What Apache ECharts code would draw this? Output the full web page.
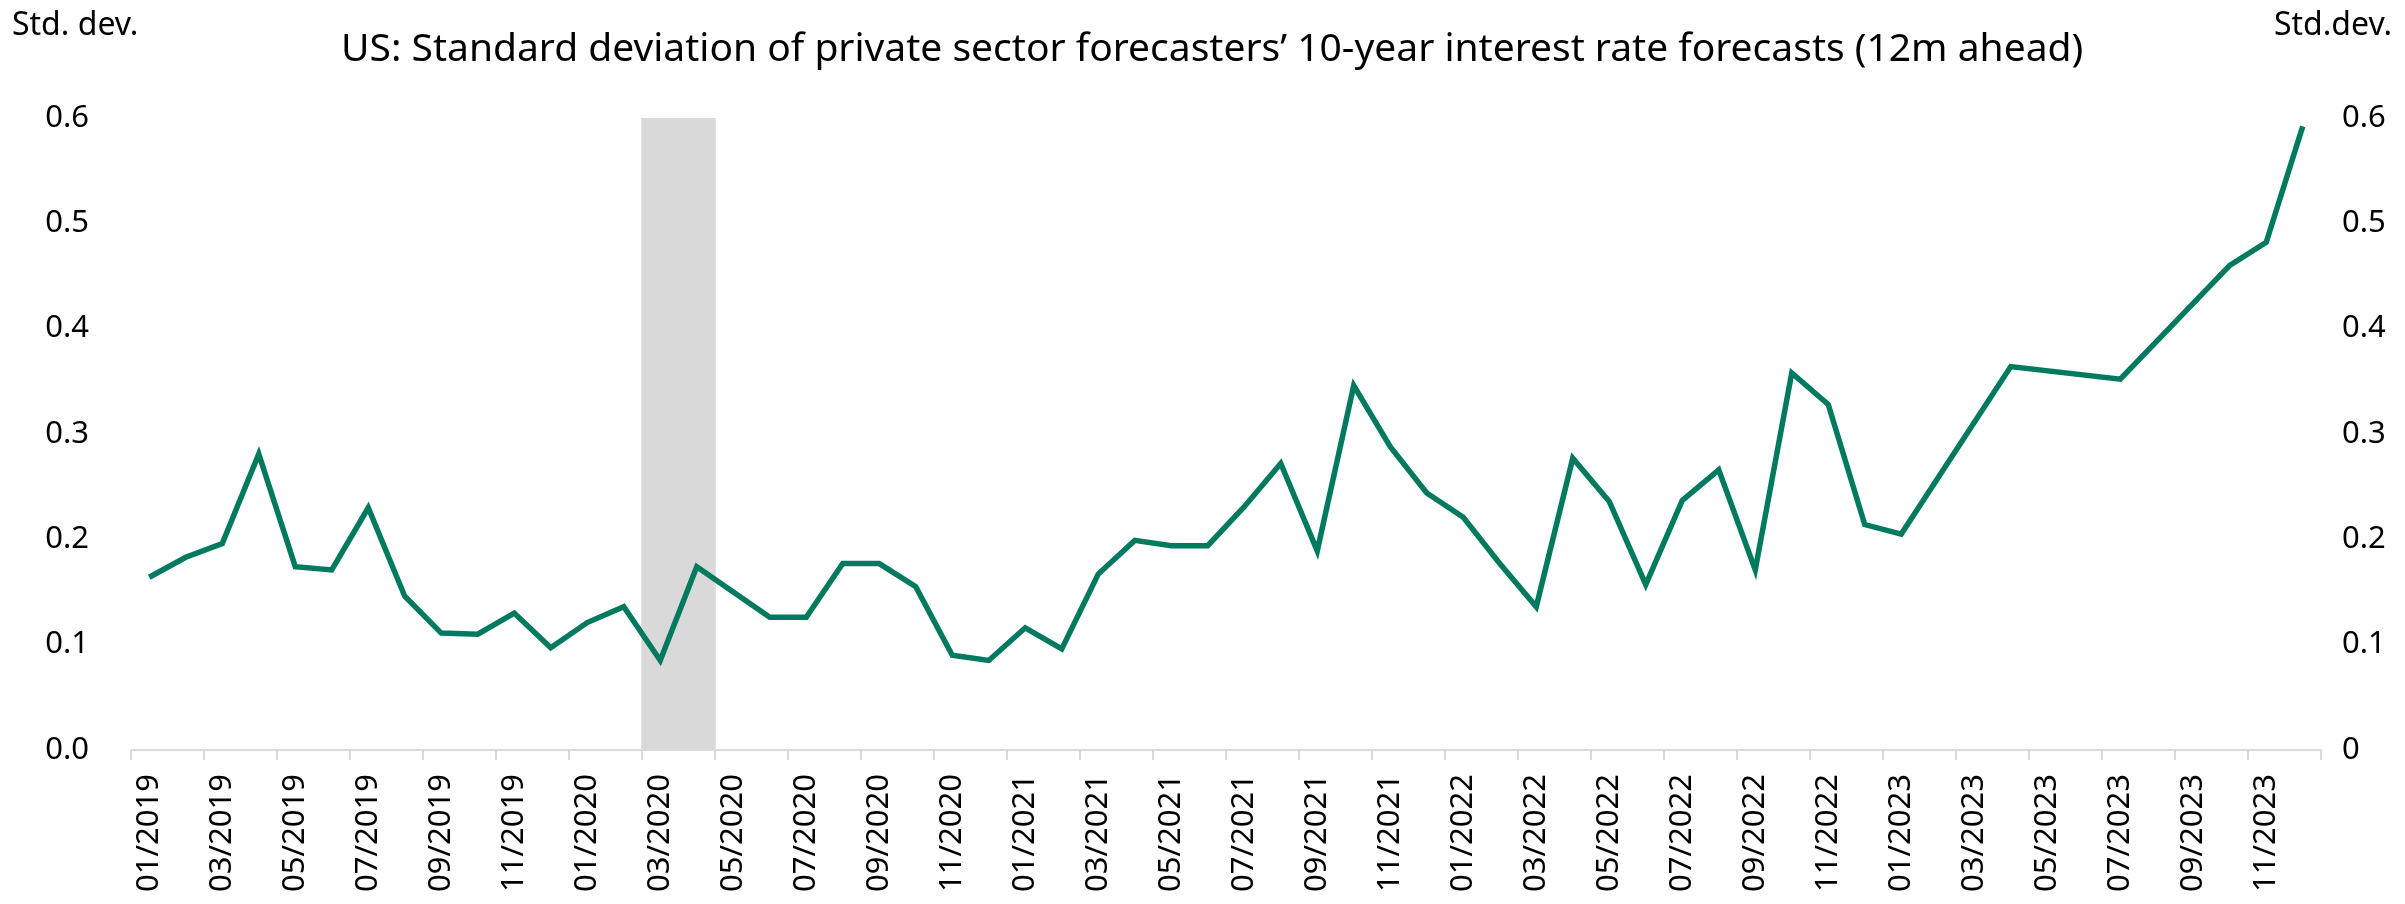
<!DOCTYPE html>
<html>
<head>
<meta charset="utf-8">
<script src="https://cdn.jsdelivr.net/npm/echarts@6/dist/echarts.min.js"></script>
<style>
html,body{margin:0;padding:0;background:#fff;}
#chart{width:2405px;height:904px;}
</style>
</head>
<body>
<div id="chart"></div>
<script>
const months = [
 '01/2019','02/2019','03/2019','04/2019','05/2019','06/2019','07/2019','08/2019','09/2019','10/2019','11/2019','12/2019',
 '01/2020','02/2020','03/2020','04/2020','05/2020','06/2020','07/2020','08/2020','09/2020','10/2020','11/2020','12/2020',
 '01/2021','02/2021','03/2021','04/2021','05/2021','06/2021','07/2021','08/2021','09/2021','10/2021','11/2021','12/2021',
 '01/2022','02/2022','03/2022','04/2022','05/2022','06/2022','07/2022','08/2022','09/2022','10/2022','11/2022','12/2022',
 '01/2023','02/2023','03/2023','04/2023','05/2023','06/2023','07/2023','08/2023','09/2023','10/2023','11/2023','12/2023'
];
const stdDev = [
 0.164,0.183,0.196,0.281,0.174,0.171,0.230,0.146,0.111,0.110,0.130,0.097,
 0.121,0.136,0.085,0.174,0.150,0.126,0.126,0.177,0.177,0.155,0.090,0.085,
 0.116,0.096,0.167,0.199,0.194,0.194,0.231,0.272,0.189,0.346,0.288,0.244,
 0.221,0.177,0.136,0.277,0.236,0.157,0.237,0.266,0.171,0.358,0.328,0.214,
 0.205,null,null,0.364,null,null,0.352,null,null,0.460,0.482,0.592
];
const shadedMonths = ['03/2020','04/2020'];
const yTicks = [0,0.1,0.2,0.3,0.4,0.5,0.6];
const titleText = 'US: Standard deviation of private sector forecasters\u2019 10-year interest rate forecasts (12m ahead)';
const leftUnit = 'Std. dev.';
const rightUnit = 'Std.dev.';

const FONT = 'Noto Sans';
const shadeData = months.map(m => shadedMonths.indexOf(m) >= 0 ? yTicks[yTicks.length-1] : null);

const chart = echarts.init(document.getElementById('chart'), null, {renderer:'canvas'});
chart.setOption({
  animation:false,
  backgroundColor:'#ffffff',
  textStyle:{fontFamily:FONT},
  title:{
    text:titleText, left:341, top:30, padding:0,
    textStyle:{fontFamily:FONT, fontSize:39, fontWeight:'normal', color:'#000'}
  },
  graphic:[
    {type:'text', left:12, top:10, style:{text:leftUnit, fontFamily:FONT, fontSize:32, fill:'#000'}},
    {type:'text', right:13, top:10, style:{text:rightUnit, fontFamily:FONT, fontSize:32, fill:'#000'}}
  ],
  grid:{left:131, right:84, top:118, bottom:154, containLabel:false},
  xAxis:{
    type:'category', data:months, boundaryGap:true,
    axisLine:{show:true, lineStyle:{color:'#d9d9d9', width:2}},
    axisTick:{show:true, interval:1, length:10, lineStyle:{color:'#d9d9d9', width:2}},
    axisLabel:{interval:1, rotate:90, fontSize:31, color:'#000', margin:24, fontFamily:FONT},
    splitLine:{show:false}
  },
  yAxis:[
    {type:'value', min:0, max:0.6, interval:0.1, position:'left',
     axisLine:{show:false}, axisTick:{show:false}, splitLine:{show:false},
     axisLabel:{fontSize:31, color:'#000', margin:42, fontFamily:FONT, formatter:v=>v.toFixed(1)}},
    {type:'value', min:0, max:0.6, interval:0.1, position:'right',
     axisLine:{show:false}, axisTick:{show:false}, splitLine:{show:false},
     axisLabel:{fontSize:31, color:'#000', margin:21, fontFamily:FONT, formatter:v=>v===0?'0':v.toFixed(1)}}
  ],
  series:[
    {type:'bar', data:shadeData, barWidth:38, barGap:'-100%',
     itemStyle:{color:'#d9d9d9'}, silent:true, z:1},
    {type:'line', data:stdDev, connectNulls:true, showSymbol:false, symbol:'none',
     lineStyle:{color:'#007a5e', width:5.5, join:'miter'}, itemStyle:{color:'#007a5e'}, z:3}
  ]
});
</script>
</body>
</html>
